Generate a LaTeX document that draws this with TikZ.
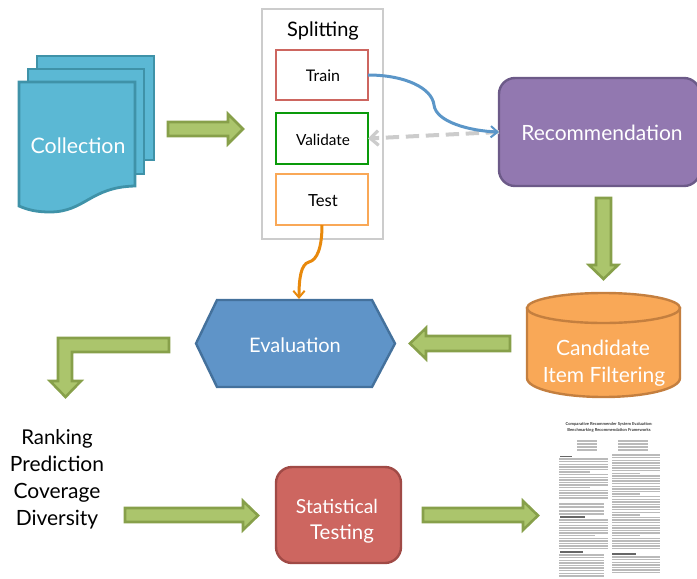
\documentclass[tikz,border=0pt]{standalone}
\usepackage{fontspec}
\setmainfont{Lato}
\usetikzlibrary{fit,arrows.meta}
\definecolor{teal1}{HTML}{5BB8D4}\definecolor{teal2}{HTML}{3F92A8}
\definecolor{arrf}{HTML}{ABC56C}\definecolor{arrd}{HTML}{87A04A}
\definecolor{purp1}{HTML}{9278B0}\definecolor{purp2}{HTML}{6C5A88}
\definecolor{oran1}{HTML}{F9A857}\definecolor{oran2}{HTML}{C47F3F}
\definecolor{blue1}{HTML}{5F94C8}\definecolor{blue2}{HTML}{44719C}
\definecolor{red1}{HTML}{CD6660}\definecolor{red2}{HTML}{A04A46}
\definecolor{grn}{HTML}{0A9A0A}\definecolor{link}{HTML}{5B96C8}\definecolor{orl}{HTML}{E8890C}
\newcommand{\fs}[1]{\fontsize{#1}{#1}\selectfont}
\tikzset{
 px/.style={line width=#1*0.75pt},
 blockarrow/.style={fill=arrf,draw=arrd,px=2.6,line join=miter},
 page/.style={fill=teal1,draw=teal2,px=2.8},
 box/.style={fit={#1},inner sep=0pt,outer sep=0pt,draw,fill=white,px=2.8},
 white label/.style={text=white,inner sep=0pt,anchor=base},
 dark label/.style={text=black,inner sep=0pt,anchor=base},
 conn/.style={px=3,-{Straight Barb[length=5pt,width=8.5pt,line width=1.5pt]}},
 para/.style={draw=black!27,px=1.4},
 parahead/.style={draw=black!60,px=1.3},
}
\begin{document}
\begin{tikzpicture}[x=0.75pt,y=-0.75pt]
\useasboundingbox (0,0) rectangle (697,579);
% collection
\draw[page] (37,56) rectangle (154,160);
\draw[page] (28,69) rectangle (144,174);
\draw[page] (19,82) -- (135,82) -- (135,186) .. controls (90,187) and (85,212) .. (50,212) .. controls (37,212) and (28,210) .. (19,206) -- cycle;
\node[white label,font=\fs{16}] (collection) at (78,153) {Collection};
% arrows
\draw[blockarrow] (168,122) -- (228,122) -- (228,114) -- (243,129) -- (228,144) -- (228,136) -- (168,136) -- cycle;
\draw[blockarrow] (596,198) -- (611,198) -- (611,265) -- (618,265) -- (603.5,279) -- (589,265) -- (596,265) -- cycle;
\draw[blockarrow] (510,336) -- (426,336) -- (426,328) -- (410,343.5) -- (426,359) -- (426,351) -- (510,351) -- cycle;
\draw[blockarrow] (169,338) -- (58,338) -- (58,381) -- (50,381) -- (65.5,397) -- (81,381) -- (72,381) -- (72,352) -- (169,352) -- cycle;
\draw[blockarrow] (125,508) -- (243,508) -- (243,501) -- (258,515.5) -- (243,530) -- (243,522) -- (125,522) -- cycle;
\draw[blockarrow] (423,508) -- (523,508) -- (523,501) -- (538,515.5) -- (523,530) -- (523,522) -- (423,522) -- cycle;
% splitting
\node[box={(262,9)(383,239)},draw=black!20] (split) {};
\node[dark label,font=\fs{15}] (splitlabel) at (323,36) {Splitting};
\node[box={(276,50)(368,100)},draw=red1] (train) {};
\node[box={(276,113)(368,164)},draw=grn] (validate) {};
\node[box={(276,174)(368,225)},draw=oran1] (test) {};
\node[dark label,font=\fs{12}] (trainlabel) at (323,81) {Train};
\node[dark label,font=\fs{11.5}] (validatelabel) at (323,145) {Validate};
\node[dark label,font=\fs{12.5}] (testlabel) at (323,206) {Test};
% recommendation
\node[fit={(499,78)(700,186)},inner sep=0pt,outer sep=0pt,draw=purp2,fill=purp1,px=2.4,rounded corners=12pt] (rec) {};
\node[white label,font=\fs{15.75}] (reclabel) at (602,140) {Recommendation};
% cylinder
\draw[fill=oran1,draw=oran2,px=2.4] (527,308) -- (527,378) .. controls (527,389) and (562,397) .. (603.5,397) .. controls (645,397) and (680,389) .. (680,378) -- (680,308) -- cycle;
\draw[fill=oran1,draw=oran2,px=2.4] (603.5,308) ellipse [x radius=76.5, y radius=15];
\node[white label,font=\fs{15.75}] (cand) at (603,355) {Candidate};
\node[white label,font=\fs{15.75}] (filt) at (604,382) {Item Filtering};
% evaluation
\draw[fill=blue1,draw=blue2,px=2.4] (196,343.5) -- (217,300) -- (372,300) -- (395,343.5) -- (372,387) -- (217,387) -- cycle;
\coordinate (evaltop) at (299,299);
\node[white label,font=\fs{15}] (eval) at (295,352) {Evaluation};
% metrics
\node[dark label,font=\fs{15.3}] (m1) at (57,444) {Ranking};
\node[dark label,font=\fs{15.75}] (m2) at (57,471) {Prediction};
\node[dark label,font=\fs{15.75}] (m3) at (57,498) {Coverage};
\node[dark label,font=\fs{15.75}] (m4) at (57,525) {Diversity};
% statistical
\node[fit={(276,467)(401,563)},inner sep=0pt,outer sep=0pt,draw=red2,fill=red1,px=2.4,rounded corners=12pt] (stat) {};
\node[white label,font=\fs{14.5}] (stat1) at (337,513) {Statistical};
\node[white label,font=\fs{15.3}] (stat2) at (342,539) {Testing};
% connectors
\draw[draw=black!20,px=4,dash pattern=on 10pt off 5pt,-{Straight Barb[length=6pt,width=11pt,line width=2.4pt]}] (rec.west) -- (validate.east);
\draw[conn,draw=link] (train.east) .. controls (405,75) and (432,88) .. (434,105) .. controls (436,122) and (470,131) .. (rec.west);
\draw[conn,draw=orl] (test.south) .. controls (322,248) and (317,260) .. (309,262) .. controls (301,264) and (299,278) .. (evaltop);
% paper
\node[inner sep=0pt,font=\fs{3.1}\bfseries,text=black!80] (ptitle) at (609,424.5) {Comparative Recommender System Evaluation:};
\node[inner sep=0pt,font=\fs{3.1}\bfseries,text=black!80] (ptitle2) at (609,430) {Benchmarking Recommendation Frameworks};
\foreach \y in {441,444,447,450}{\draw[para] (577,\y) -- (597,\y); \draw[para] (618,\y) -- (648,\y);}
\draw[parahead] (560,456.5) -- (572,456.5);
\foreach \y [count=\i] in {459,461.6,...,500}{
  \pgfmathsetmacro{\e}{mod(\i,6)==0 ? 590 : 608}
  \draw[para] (559,\y) -- (\e,\y);}
\foreach \y in {504,507,511,514}{\draw[para] (559,\y) -- (604,\y);}
\draw[parahead] (560,517) -- (585,517);
\foreach \y [count=\i] in {520,522.6,...,550}{
  \pgfmathsetmacro{\e}{mod(\i,7)==0 ? 595 : 608}
  \draw[para] (559,\y) -- (\e,\y);}
\draw[parahead] (560,552) -- (583,552);
\foreach \y in {555,557.6,...,578}{\draw[para] (559,\y) -- (604,\y);}
\foreach \y [count=\i] in {455,457.6,...,550}{
  \pgfmathsetmacro{\e}{mod(\i,8)==0 ? 640 : 660}
  \draw[para] (612,\y) -- (\e,\y);}
\draw[parahead] (612,554) -- (636,554);
\foreach \y in {557,559.6,...,575}{\draw[para] (612,\y) -- (660,\y);}
\end{tikzpicture}
\end{document}
